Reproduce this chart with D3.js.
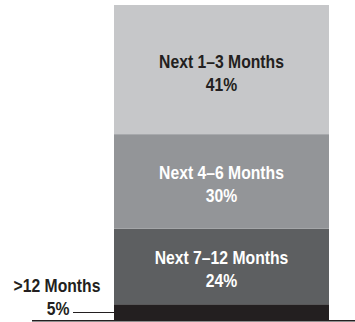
<!DOCTYPE html>
<html>
<head>
<meta charset="utf-8">
<script src="https://cdn.jsdelivr.net/npm/d3@7"></script>
<style>
  html, body { margin: 0; padding: 0; background: #fff; }
  svg { display: block; }
  text { font-family: "Liberation Sans", Arial, sans-serif; font-weight: bold; }
</style>
</head>
<body>
<svg id="chart" width="355" height="322"></svg>
<script>
// Data (stacked bottom -> top)
const categories = [">12 Months", "Next 7–12 Months", "Next 4–6 Months", "Next 1–3 Months"];
const values = [5, 24, 30, 41];
const colors = ["#231f20", "#5d5f61", "#939598", "#c6c7c9"];
const labelColors = ["#231f20", "#ffffff", "#ffffff", "#231f20"];
const barName = ["Time horizon"];

const svg = d3.select("#chart");
const W = 355, H = 322;
const FS = 18.5, SX = 0.85;

const x = d3.scaleBand().domain(barName).range([114, 329]).padding(0);
const total = d3.sum(values);
const y = d3.scaleLinear().domain([0, total]).range([320, 5]);

let cum = 0;
const segs = values.map((v, i) => {
  const s = { name: categories[i], v, y0: cum, y1: cum + v, color: colors[i], lc: labelColors[i], i };
  cum += v;
  return s;
});

svg.selectAll("rect.seg").data(segs).join("rect")
  .attr("class", "seg")
  .attr("x", x(barName[0]))
  .attr("width", x.bandwidth())
  .attr("y", d => y(d.y1))
  .attr("height", d => y(d.y0) - y(d.y1))
  .attr("fill", d => d.color);

function label(px, py, txt, fill) {
  svg.append("text")
    .attr("transform", `translate(${px},${py}) scale(${SX},1)`)
    .attr("text-anchor", "middle")
    .attr("font-size", FS)
    .attr("fill", fill)
    .text(txt);
}

// Inside labels (all but the smallest)
const cx = x(barName[0]) + x.bandwidth() / 2;
segs.filter(d => d.i > 0).forEach(d => {
  const my = (y(d.y0) + y(d.y1)) / 2;
  label(cx, my - 2, d.name, d.lc);
  label(cx, my + 21, d.v + "%", d.lc);
});

// Outside label for smallest segment
const small = segs[0];
const ly = Math.round((y(small.y0) + y(small.y1)) / 2) + 0.5;
label(57, 292, small.name, "#231f20");
label(58, 315, small.v + "%", "#231f20");
svg.append("line")
  .attr("x1", 73).attr("x2", x(barName[0]))
  .attr("y1", ly).attr("y2", ly)
  .attr("stroke", "#231f20").attr("stroke-width", 1);

// Baseline
svg.append("line")
  .attr("x1", 32).attr("x2", W)
  .attr("y1", y(0) + 0.75).attr("y2", y(0) + 0.75)
  .attr("stroke", "#231f20").attr("stroke-width", 1.5);
</script>
</body>
</html>
